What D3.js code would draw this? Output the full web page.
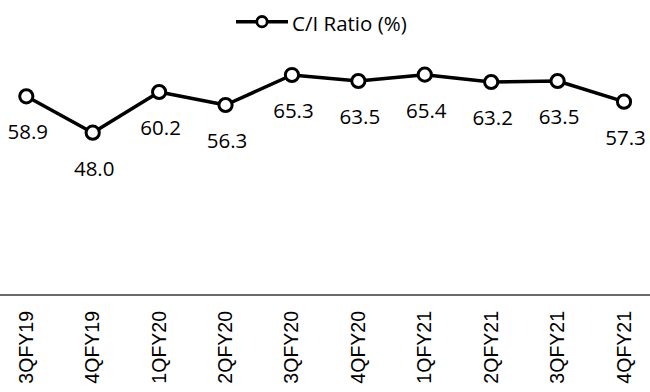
<!DOCTYPE html>
<html>
<head>
<meta charset="utf-8">
<script src="https://cdn.jsdelivr.net/npm/d3@7/dist/d3.min.js"></script>
<style>
	body { margin: 0; background: #fff; }
	svg { display: block; }
	.catLabel { font-family: "Liberation Sans", Arial, sans-serif; font-size: 19.5px; fill: #000; }
	.valLabel { font-family: "Open Sans", sans-serif; font-size: 20.5px; fill: #000; }
	.legendText { font-family: "Open Sans", sans-serif; font-size: 20.5px; fill: #000; }
</style>
</head>
<body>
<div id="chart"></div>
<script>
// quarters and C/I ratio values
const quarters = ["3QFY19", "4QFY19", "1QFY20", "2QFY20", "3QFY20", "4QFY20", "1QFY21", "2QFY21", "3QFY21", "4QFY21"];
const ciRatio = [58.9, 48.0, 60.2, 56.3, 65.3, 63.5, 65.4, 63.2, 63.5, 57.3];
const seriesName = "C/I Ratio (%)";

const width = 650, height = 392;

let svg = d3.select("#chart").append("svg")
	.attr("width", width)
	.attr("height", height);

let x = d3.scalePoint().domain(quarters).range([26.3, 624]),
	y = d3.scaleLinear().domain([0, 70]).range([292.8, 59.3]);

// bottom axis, just the line and the rotated labels
let axisY = 295;
svg.append("line")
	.attr("x1", 0).attr("x2", width)
	.attr("y1", axisY).attr("y2", axisY)
	.attr("stroke", "#3a3a3a")
	.attr("stroke-width", 1.6);

svg.append("g").selectAll("text")
	.data(quarters)
	.enter().append("text")
	.attr("class", "catLabel")
	.attr("transform", function(d){ return "translate(" + (x(d) - 0.5) + "," + (axisY + 16) + ") rotate(-90)"; })
	.attr("text-anchor", "end")
	.attr("dy", "0.36em")
	.text(function(d){ return d; });

let data = quarters.map(function(q, i){ return {q: q, v: ciRatio[i]}; });

let line = d3.line()
	.x(function(d){ return x(d.q); })
	.y(function(d){ return y(d.v); });

svg.append("path")
	.datum(data)
	.attr("d", line)
	.attr("fill", "none")
	.attr("stroke", "#000")
	.attr("stroke-width", 3.5)
	.attr("stroke-linejoin", "round");

svg.append("g").selectAll("circle")
	.data(data)
	.enter().append("circle")
	.attr("cx", function(d){ return x(d.q); })
	.attr("cy", function(d){ return y(d.v); })
	.attr("r", 6.6)
	.attr("fill", "#fff")
	.attr("stroke", "#000")
	.attr("stroke-width", 3);

svg.append("g").selectAll("text")
	.data(data)
	.enter().append("text")
	.attr("class", "valLabel")
	.attr("x", function(d){ return x(d.q) + 1.5; })
	.attr("y", function(d){ return y(d.v) + 43; })
	.attr("text-anchor", "middle")
	.text(function(d){ return d.v.toFixed(1); });

// legend
let legend = svg.append("g").attr("class", "legend");
legend.append("line")
	.attr("x1", 236).attr("x2", 288)
	.attr("y1", 21.7).attr("y2", 21.7)
	.attr("stroke", "#000")
	.attr("stroke-width", 3.5);
legend.append("circle")
	.attr("cx", 262).attr("cy", 21.7)
	.attr("r", 5.2)
	.attr("fill", "#fff")
	.attr("stroke", "#000")
	.attr("stroke-width", 2.8);
legend.append("text")
	.attr("class", "legendText")
	.attr("x", 292)
	.attr("y", 31)
	.text(seriesName);
</script>
</body>
</html>
